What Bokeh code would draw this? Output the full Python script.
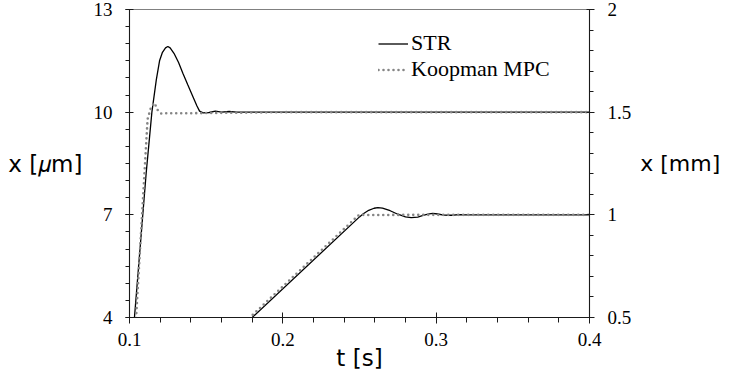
from bokeh.plotting import figure
from bokeh.models import Range1d, LinearAxis, FixedTicker, Legend, LegendItem
from bokeh.embed import file_html
from bokeh.resources import INLINE

# ---------------- data ----------------
# upper step (left axis, micrometres)
str_t = [0.1025, 0.1109, 0.1146, 0.1175, 0.1196, 0.1215, 0.1235, 0.1250, 0.1265, 0.1290,
         0.1320, 0.1348, 0.1380, 0.1413, 0.1440, 0.1457, 0.1480, 0.1520, 0.1560, 0.1600,
         0.1650, 0.1700, 0.1800, 0.4000]
str_um = [3.6, 8.23, 10.0, 10.95, 11.50, 11.75, 11.88, 11.92, 11.88, 11.72,
          11.45, 11.14, 10.80, 10.46, 10.18, 10.03, 9.98, 9.99, 10.03, 10.00,
          10.02, 10.00, 10.00, 10.00]
kmpc_t = [0.1035, 0.1043, 0.1118, 0.1141, 0.1163, 0.1185, 0.1207, 0.1250, 0.1400, 0.2000, 0.4000]
kmpc_um = [3.4, 4.0, 9.8, 10.15, 10.27, 10.05, 9.96, 9.97, 9.97, 10.0, 10.0]

# lower ramp (right axis, millimetres)
str2_t = [0.1795, 0.2500, 0.2525, 0.2560, 0.2595, 0.2620, 0.2650, 0.2700, 0.2750, 0.2800,
          0.2837, 0.2880, 0.2920, 0.2955, 0.2978, 0.3010, 0.3050, 0.3100, 0.3150, 0.3200, 0.4000]
str2_mm = [0.4965, 0.990, 1.005, 1.022, 1.032, 1.035, 1.033, 1.020, 1.003, 0.990,
           0.986, 0.989, 0.998, 1.005, 1.007, 1.004, 0.999, 0.998, 1.001, 1.000, 1.000]
kmpc2_t = [0.1780, 0.2494, 0.2515, 0.2600, 0.2800, 0.4000]
kmpc2_mm = [0.4965, 0.998, 1.000, 0.999, 1.000, 1.000]

# ticks
x_ticks = [0.1, 0.2, 0.3, 0.4]
x_tick_labels = ["0.1", "0.2", "0.3", "0.4"]
x_minor = [0.1 + 0.02 * i for i in range(16)]
um_ticks = [4, 7, 10, 13]
um_tick_labels = ["4", "7", "10", "13"]
um_minor = [4 + 0.5 * i for i in range(19)]
mm_ticks = [0.5, 1.0, 1.5, 2.0]
mm_tick_labels = ["0.5", "1", "1.5", "2"]
mm_minor = [0.5 + 0.1 * i for i in range(16)]

# ---------------- layout ----------------
FL, FT, FW, FH = 129, 9, 460, 308

p = figure(frame_width=FW, frame_height=FH,
           x_range=Range1d(0.1, 0.4), y_range=Range1d(4, 13),
           output_backend="svg", toolbar_location=None,
           min_border_left=FL, min_border_right=10,
           min_border_top=FT, min_border_bottom=10)
p.extra_y_ranges = {"mm": Range1d(0.5, 2.0)}
p.grid.visible = False
p.outline_line_color = "#808080"
p.outline_line_width = 1.2
p.background_fill_color = "white"
p.border_fill_color = "white"

TICK_FONT = "Liberation Serif"
SANS = "DejaVu Sans"
AX_COL = "#1a1a1a"

xa = p.xaxis[0]
xa.ticker = FixedTicker(ticks=x_ticks, minor_ticks=x_minor)
xa.major_label_overrides = dict(zip(x_ticks, x_tick_labels))
xa.major_tick_in, xa.major_tick_out = 5, 6
xa.minor_tick_in, xa.minor_tick_out = 0, 5
xa.major_label_standoff = 9
xa.axis_label = "t [s]"
xa.axis_label_standoff = -4

ya = p.yaxis[0]
ya.ticker = FixedTicker(ticks=um_ticks, minor_ticks=um_minor)
ya.major_label_overrides = dict(zip(um_ticks, um_tick_labels))
ya.major_tick_in, ya.major_tick_out = 4, 4
ya.minor_tick_in, ya.minor_tick_out = 0, 4
ya.major_label_standoff = 13
ya.axis_label = "x [\U0001D707m]"
ya.axis_label_orientation = "horizontal"
ya.axis_label_standoff = 8

ra = LinearAxis(y_range_name="mm", ticker=FixedTicker(ticks=mm_ticks, minor_ticks=mm_minor))
ra.major_label_overrides = dict(zip(mm_ticks, mm_tick_labels))
ra.major_tick_in, ra.major_tick_out = 3, 5
ra.minor_tick_in, ra.minor_tick_out = 0, 4
ra.major_label_standoff = 13
ra.axis_label = "x [mm]"
ra.axis_label_orientation = "horizontal"
ra.axis_label_standoff = 6
p.add_layout(ra, "right")

for ax in (xa, ya, ra):
    ax.axis_line_color = AX_COL
    ax.major_tick_line_color = AX_COL
    ax.minor_tick_line_color = AX_COL
    ax.major_label_text_font = TICK_FONT
    ax.major_label_text_font_size = "19px"
    ax.major_label_text_color = "black"
    ax.axis_label_text_font = SANS
    ax.axis_label_text_font_size = "23px"
    ax.axis_label_text_font_style = "normal"
    ax.axis_label_text_color = "black"
ra.axis_label_text_font_size = "22px"

# ---------------- lines ----------------
DOT = dict(line_color="#858585", line_width=2.6, line_dash="0 5", line_cap="round")
r1 = p.line(str_t, str_um, line_color="black", line_width=1.3)
r3 = p.line(str2_t, str2_mm, y_range_name="mm", line_color="black", line_width=1.3)
r2 = p.line(kmpc_t, kmpc_um, **DOT)
r4 = p.line(kmpc2_t, kmpc2_mm, y_range_name="mm", **DOT)

legend = Legend(items=[LegendItem(label="STR", renderers=[r1]),
                       LegendItem(label="Koopman MPC", renderers=[r2])],
                location=(249, 235), padding=0, margin=0, spacing=-2,
                glyph_width=30, glyph_height=25, label_height=25, label_standoff=3,
                label_text_font="Liberation Serif", label_text_font_size="22px",
                label_text_color="black",
                border_line_color=None, background_fill_alpha=0)
p.add_layout(legend)

open("out.html", "w").write(file_html(p, INLINE))
